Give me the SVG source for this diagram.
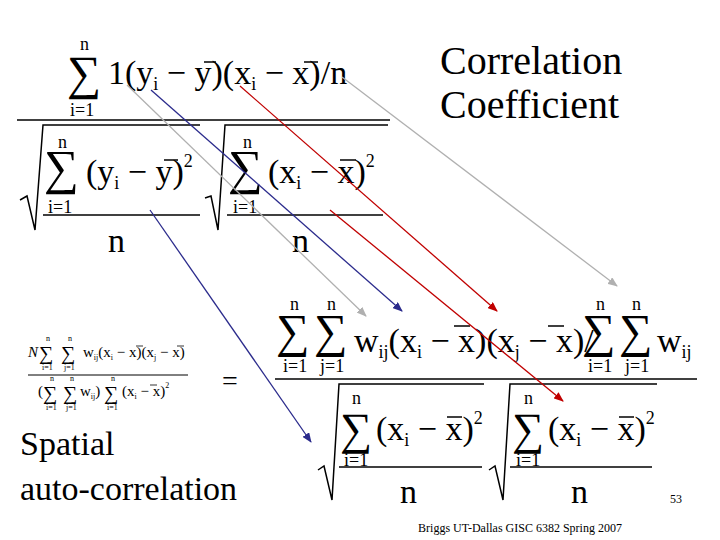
<svg xmlns="http://www.w3.org/2000/svg" width="720" height="540" viewBox="0 0 720 540" font-family="Liberation Serif, serif">
<defs>
<style>
text{font-family:Liberation Serif,Times New Roman,serif;fill:#000}
.b{font-size:34px}.s{font-size:18px}.m{font-size:15px}
.ln{stroke:#000;stroke-width:1.5;fill:none}
.c{stroke-width:1.3;fill:none}
</style>
<marker id="ag" markerWidth="10" markerHeight="8" refX="9" refY="4" orient="auto" markerUnits="userSpaceOnUse"><path d="M0,0L10,4L0,8z" fill="#b0b0b0"/></marker>
<marker id="ab" markerWidth="10" markerHeight="8" refX="9" refY="4" orient="auto" markerUnits="userSpaceOnUse"><path d="M0,0L10,4L0,8z" fill="#2b2b8c"/></marker>
<marker id="ar" markerWidth="10" markerHeight="8" refX="9" refY="4" orient="auto" markerUnits="userSpaceOnUse"><path d="M0,0L10,4L0,8z" fill="#c00000"/></marker>
</defs>
<rect width="720" height="540" fill="#fff"/>
<g id="correlation">
<text x="67" y="89" font-size="48">∑</text><text class="s" x="80" y="50">n</text><text class="s" x="70" y="116">i=1</text>
<text class="b" x="108" y="84">1(y<tspan font-size="18" dy="6">i</tspan><tspan dy="-6"> − y)(x</tspan><tspan font-size="18" dy="6">i</tspan><tspan dy="-6"> − x)/n</tspan></text>
<path class="ln" d="M204,62H216M304,62H318"/>
<path class="ln" d="M17,120H390"/>
<path class="ln" d="M20,200L27,196L35,230L43,125H200M205,198L211,196L218,230L225,125H388"/>
<text x="44" y="184" font-size="49">∑</text><text class="s" x="58" y="148">n</text><text class="s" x="48" y="213">i=1</text>
<text class="b" x="86" y="183">(y<tspan font-size="18" dy="6">i</tspan><tspan dy="-6"> − y)</tspan><tspan font-size="18" dy="-16">2</tspan></text>
<path class="ln" d="M164,160H178"/>
<path class="ln" d="M43,215H200"/><text class="b" x="108" y="252">n</text>
<text x="228" y="184" font-size="49">∑</text><text class="s" x="243" y="148">n</text><text class="s" x="233" y="213">i=1</text>
<text class="b" x="268" y="183">(x<tspan font-size="18" dy="6">i</tspan><tspan dy="-6"> − x)</tspan><tspan font-size="18" dy="-16">2</tspan></text>
<path class="ln" d="M340,160H356"/>
<path class="ln" d="M227,215H383"/><text class="b" x="292" y="252">n</text>
</g>
<g id="title1"><text x="440" y="74" font-size="40">Correlation</text><text x="440" y="118" font-size="40">Coefficient</text></g>
<g id="spatial-small">
<text class="m" x="28" y="357" font-style="italic">N</text>
<text x="39" y="360" font-size="20">∑</text><text x="61" y="360" font-size="20">∑</text>
<text x="46" y="341" font-size="8">n</text><text x="68" y="341" font-size="8">n</text>
<text x="42" y="370" font-size="8">i=1</text><text x="64" y="370" font-size="8">j=1</text>
<text class="m" x="83" y="357">w<tspan font-size="8" dy="3">ij</tspan><tspan dy="-3">(x</tspan><tspan font-size="8" dy="3">i</tspan><tspan dy="-3"> − x)(x</tspan><tspan font-size="8" dy="3">j</tspan><tspan dy="-3"> − x)</tspan></text>
<path stroke="#000" stroke-width="0.8" d="M136,346H143M177,346H184"/>
<path stroke="#000" stroke-width="1" d="M28,375H188"/>
<text class="m" x="38" y="396">(</text>
<text x="43" y="400" font-size="20">∑</text><text x="63" y="400" font-size="20">∑</text>
<text x="50" y="381" font-size="8">n</text><text x="70" y="381" font-size="8">n</text>
<text x="46" y="410" font-size="8">i=1</text><text x="66" y="410" font-size="8">j=1</text>
<text class="m" x="80" y="396">w<tspan font-size="8" dy="3">ij</tspan><tspan dy="-3">)</tspan></text>
<text x="104" y="400" font-size="20">∑</text><text x="111" y="381" font-size="8">n</text><text x="107" y="410" font-size="8">i=1</text>
<text class="m" x="122" y="396">(x<tspan font-size="8" dy="3">i</tspan><tspan dy="-3"> − x)</tspan><tspan font-size="8" dy="-8">2</tspan></text>
<path stroke="#000" stroke-width="0.8" d="M150,385H157"/>
<text x="222" y="390" font-size="28">=</text>
<text x="20" y="455" font-size="34">Spatial</text><text x="20" y="500" font-size="34">auto-correlation</text>
</g>
<g id="spatial-big">
<text x="276" y="347" font-size="47">∑</text><text class="s" x="290" y="310">n</text><text class="s" x="283" y="372">i=1</text>
<text x="314" y="347" font-size="47">∑</text><text class="s" x="327" y="310">n</text><text class="s" x="320" y="372">j=1</text>
<text class="b" x="354" y="352">w<tspan font-size="18" dy="6">ij</tspan><tspan dy="-6">(x</tspan><tspan font-size="18" dy="6">i</tspan><tspan dy="-6"> − x)(x</tspan><tspan font-size="18" dy="6">j</tspan><tspan dy="-6"> − x)/</tspan></text>
<path class="ln" d="M454,326H470M548,326H564"/>
<text x="582" y="347" font-size="47">∑</text><text class="s" x="596" y="310">n</text><text class="s" x="588" y="372">i=1</text>
<text x="619" y="347" font-size="47">∑</text><text class="s" x="632" y="310">n</text><text class="s" x="625" y="372">j=1</text>
<text class="b" x="657" y="352">w<tspan font-size="18" dy="6">ij</tspan></text>
<path class="ln" d="M275,379H697"/>
<path class="ln" d="M318,470L324,466L332,500L339,384H484M489,470L495,466L503,500L510,384H657"/>
<text x="340" y="444" font-size="45">∑</text><text class="s" x="352" y="404">n</text><text class="s" x="344" y="466">i=1</text>
<text class="b" x="376" y="440">(x<tspan font-size="18" dy="6">i</tspan><tspan dy="-6"> − x)</tspan><tspan font-size="18" dy="-16">2</tspan></text>
<path class="ln" d="M447,417H462"/>
<path class="ln" d="M339,467H482"/><text class="b" x="400" y="503">n</text>
<text x="512" y="444" font-size="45">∑</text><text class="s" x="524" y="404">n</text><text class="s" x="516" y="466">i=1</text>
<text class="b" x="548" y="440">(x<tspan font-size="18" dy="6">i</tspan><tspan dy="-6"> − x)</tspan><tspan font-size="18" dy="-16">2</tspan></text>
<path class="ln" d="M619,417H634"/>
<path class="ln" d="M510,467H652"/><text class="b" x="571" y="503">n</text>
</g>
<g id="footer"><text x="670" y="503" font-size="12">53</text><text x="520" y="532" font-size="12" text-anchor="middle">Briggs UT-Dallas GISC 6382 Spring 2007</text></g>
<g id="connectors">
<path class="c" stroke="#b0b0b0" marker-end="url(#ag)" d="M127,85L366,316"/>
<path class="c" stroke="#2b2b8c" marker-end="url(#ab)" d="M151,90L402,311"/>
<path class="c" stroke="#c00000" marker-end="url(#ar)" d="M240,86L497,311"/>
<path class="c" stroke="#b0b0b0" marker-end="url(#ag)" d="M342,77L617,286"/>
<path class="c" stroke="#2b2b8c" marker-end="url(#ab)" d="M150,210L311,442"/>
<path class="c" stroke="#c00000" marker-end="url(#ar)" d="M330,210L563,401"/>
</g>
</svg>
